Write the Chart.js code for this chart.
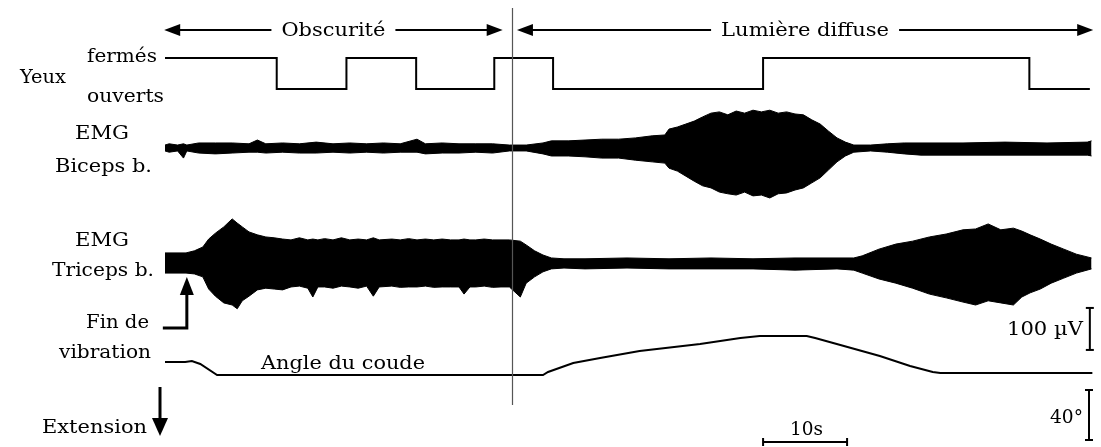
<!DOCTYPE html>
<html>
<head>
<meta charset="utf-8">
<script src="https://cdn.jsdelivr.net/npm/chart.js@4/dist/chart.umd.min.js"></script>
<style>
  html, body { margin: 0; padding: 0; background: #fff; }
  canvas { display: block; }
</style>
</head>
<body>
<canvas id="chart" width="1101" height="447"></canvas>
<script>
// all times in seconds from the start of the recording
const eyeTimes = [0, 13.3, 21.6, 29.9, 39.2, 46.2, 71.2, 102.9, 110.1];
const eyeStates = [1, 0, 1, 0, 1, 0, 1, 0, 0]; // 1 = fermés, 0 = ouverts

// EMG envelopes, µV (upper edge / lower edge of the raw trace)
const bicepsTimes = [0, 0.5, 1.5, 2.2, 2.6, 4, 6, 8, 10, 11, 12, 14, 16, 18, 20, 22, 24, 26, 28, 30, 31, 33, 35, 37, 39, 41, 43, 45, 46, 48, 50, 52, 54, 56, 58, 59.5, 60, 61, 62, 63, 64, 65, 66, 67, 68, 69, 70, 71, 72, 73, 74, 75, 76, 77, 78, 79, 80, 81, 82, 84, 86, 88, 90, 95, 100, 105, 109.8, 110.3];
const bicepsMax = [7, 10, 7, 10, 7, 12, 12, 12, 10, 19, 10, 12, 10, 14, 10, 12, 10, 12, 10, 21, 10, 12, 10, 10, 10, 7, 7, 12, 17, 17, 19, 21, 21, 24, 29, 31, 45, 50, 57, 64, 74, 83, 86, 79, 88, 83, 90, 86, 90, 83, 86, 81, 79, 67, 57, 40, 24, 14, 7, 7, 10, 12, 12, 12, 14, 12, 14, 17];
const bicepsMin = [-7, -10, -7, -24, -7, -12, -14, -12, -10, -10, -12, -10, -12, -12, -10, -12, -10, -12, -10, -10, -14, -12, -12, -10, -12, -7, -7, -14, -19, -19, -21, -24, -24, -29, -33, -36, -48, -55, -67, -79, -90, -95, -105, -109, -112, -105, -114, -112, -119, -109, -107, -100, -95, -83, -71, -52, -33, -19, -10, -7, -10, -14, -17, -17, -17, -17, -17, -19];

const tricepsTimes = [0, 2.5, 3.5, 4.5, 5.2, 6, 7, 8, 8.6, 9.2, 10, 11, 12, 13, 14, 15, 16, 17, 17.6, 18.2, 19, 20, 21, 22, 23, 24, 24.8, 25.5, 27, 28, 29, 30, 31, 32, 33, 34, 35, 35.6, 36.3, 37, 38, 39, 40, 41, 42.3, 43, 44, 45, 46, 47.5, 50, 55, 60, 65, 70, 75, 80, 82, 83, 85, 87, 89, 91, 93, 95, 96.5, 98, 99.5, 101, 102, 103, 104.2, 105.5, 107, 108.5, 110.3];
const tricepsMax = [24, 24, 29, 38, 57, 71, 86, 105, 95, 86, 74, 67, 62, 60, 57, 55, 60, 55, 57, 55, 58, 55, 60, 55, 57, 55, 60, 55, 57, 55, 58, 55, 57, 55, 57, 55, 55, 57, 55, 55, 57, 55, 55, 55, 52, 43, 29, 19, 12, 10, 10, 12, 10, 12, 10, 12, 12, 12, 17, 33, 45, 52, 62, 69, 79, 81, 93, 79, 83, 76, 67, 57, 45, 33, 21, 12];
const tricepsMin = [-24, -24, -26, -33, -62, -79, -95, -100, -109, -90, -79, -64, -60, -62, -64, -57, -55, -60, -81, -57, -57, -60, -55, -57, -60, -55, -79, -57, -55, -58, -57, -57, -55, -58, -57, -57, -57, -74, -57, -57, -55, -58, -57, -57, -81, -48, -33, -21, -14, -12, -14, -12, -14, -14, -14, -17, -14, -17, -24, -38, -48, -60, -74, -83, -93, -100, -90, -95, -100, -81, -71, -62, -48, -36, -24, -14];

// elbow angle, degrees relative to the final extended position
const angleTimes = [0, 2.4, 3.2, 4.2, 6.2, 45.0, 45.6, 48.6, 51.8, 56.5, 63.7, 68.5, 70.8, 76.4, 77.4, 80.4, 85.1, 88.7, 91.4, 92.3, 110.4];
const angleDeg = [9.6, 9.6, 10.4, 8.0, -0.8, -0.8, 1.6, 8.8, 12.8, 18.4, 24.0, 28.8, 30.4, 30.4, 28.8, 23.2, 14.4, 6.4, 1.6, 0.8, 0.8];

// events
const vibrationEnd = 2.6;
const lightOn = 41.3;
const periodLabels = ["Obscurité", "Lumière diffuse"];
const periodStart = [-0.1, 41.9];
const periodEnd = [40.2, 110.5];

// calibration bars
const emgBar = 100;   // µV
const angleBar = 40;  // degrees
const timeBar = 10;   // s

const W = 1101, H = 447;
const PX_PER_S = 8.4;
const T0_PX = 165;

// every trace gets its own hidden y axis: zero line position and gain in px/unit
function band(zeroPx, pxPerUnit) {
    return { display: false, bounds: "data", min: (zeroPx - H) / pxPerUnit, max: zeroPx / pxPerUnit };
}

function points(xs, ys) {
    return xs.map((x, i) => ({ x: x, y: ys[i] }));
}

const lineBase = { pointRadius: 0, borderColor: "#000", backgroundColor: "#000", tension: 0, fill: false };

const datasets = [
    Object.assign({}, lineBase, { label: "Yeux", data: points(eyeTimes, eyeStates), yAxisID: "yEye", stepped: "before", borderWidth: 2 }),
    Object.assign({}, lineBase, { label: "Biceps max", data: points(bicepsTimes, bicepsMax), yAxisID: "yBic", borderWidth: 1, fill: "+1" }),
    Object.assign({}, lineBase, { label: "Biceps min", data: points(bicepsTimes, bicepsMin), yAxisID: "yBic", borderWidth: 1 }),
    Object.assign({}, lineBase, { label: "Triceps max", data: points(tricepsTimes, tricepsMax), yAxisID: "yTri", borderWidth: 1, fill: "+1" }),
    Object.assign({}, lineBase, { label: "Triceps min", data: points(tricepsTimes, tricepsMin), yAxisID: "yTri", borderWidth: 1 }),
    Object.assign({}, lineBase, { label: "Angle", data: points(angleTimes, angleDeg), yAxisID: "yAng", borderWidth: 2 }),
    // calibration bars, drawn on the axes they measure
    Object.assign({}, lineBase, { label: "100 µV", data: [{ x: 110.1, y: -107 }, { x: 110.1, y: -107 - emgBar }], yAxisID: "yTri", borderWidth: 2, pointStyle: "line", pointRadius: 4, pointBorderWidth: 2 }),
    Object.assign({}, lineBase, { label: "40°", data: [{ x: 110.0, y: -12.8 }, { x: 110.0, y: -12.8 - angleBar }], yAxisID: "yAng", borderWidth: 2, pointStyle: "line", pointRadius: 4, pointBorderWidth: 2 }),
    Object.assign({}, lineBase, { label: "10s", data: [{ x: 71.2, y: -54.4 }, { x: 71.2 + timeBar, y: -54.4 }], yAxisID: "yAng", borderWidth: 2, pointStyle: "line", rotation: 90, pointRadius: 4, pointBorderWidth: 2 })
];

const FONT = '19px "DejaVu Serif"';
// text, left x, middle y, width it spans
const labels = [
    ["Yeux", 20, 78, 46],
    ["fermés", 87, 57, 70],
    ["ouverts", 87, 97, 77],
    ["EMG", 75, 134, 54],
    ["Biceps b.", 55, 167, 97],
    ["EMG", 75, 241, 54],
    ["Triceps b.", 52, 271, 102],
    ["Fin de", 86, 323, 63],
    ["vibration", 59, 353, 92],
    ["Angle du coude", 261, 364, 164],
    ["Extension", 42, 428, 105],
    ["100 µV", 1007, 330, 76],
    ["40°", 1050, 418, 33],
    ["10s", 790, 430, 33]
];

function fitText(ctx, text, x, y, width) {
    const w = ctx.measureText(text).width;
    ctx.save();
    ctx.translate(x, y);
    ctx.scale(width / w, 1);
    ctx.fillText(text, 0, 0);
    ctx.restore();
}

function arrowHead(ctx, x, y, dx, dy, len, half) {
    // tip at (x, y), pointing along (dx, dy)
    ctx.beginPath();
    ctx.moveTo(x, y);
    ctx.lineTo(x - dx * len - dy * half, y - dy * len + dx * half);
    ctx.lineTo(x - dx * len + dy * half, y - dy * len - dx * half);
    ctx.closePath();
    ctx.fill();
}

const annotations = {
    id: "annotations",
    afterDatasetsDraw(chart) {
        const ctx = chart.ctx;
        const xs = chart.scales.x;
        ctx.save();
        ctx.fillStyle = "#000";
        ctx.strokeStyle = "#000";
        ctx.font = FONT;
        ctx.textBaseline = "middle";

        // light switched on
        const lx = Math.round(xs.getPixelForValue(lightOn)) + 0.5;
        ctx.strokeStyle = "#555";
        ctx.lineWidth = 1.2;
        ctx.beginPath();
        ctx.moveTo(lx, 8);
        ctx.lineTo(lx, 405);
        ctx.stroke();

        // period arrows
        ctx.strokeStyle = "#000";
        ctx.lineWidth = 2;
        const ay = 30;
        periodLabels.forEach((label, i) => {
            const a = xs.getPixelForValue(periodStart[i]);
            const b = xs.getPixelForValue(periodEnd[i]);
            const tw = i === 0 ? 104 : 168;
            const mid = (a + b) / 2;
            ctx.beginPath();
            ctx.moveTo(a + 10, ay);
            ctx.lineTo(mid - tw / 2 - 10, ay);
            ctx.moveTo(mid + tw / 2 + 10, ay);
            ctx.lineTo(b - 10, ay);
            ctx.stroke();
            arrowHead(ctx, a, ay, -1, 0, 16, 6);
            arrowHead(ctx, b, ay, 1, 0, 16, 6);
            fitText(ctx, label, mid - tw / 2, ay + 1, tw);
        });

        // end of vibration marker
        const vx = xs.getPixelForValue(vibrationEnd);
        ctx.lineWidth = 3;
        ctx.beginPath();
        ctx.moveTo(vx - 24, 328);
        ctx.lineTo(vx, 328);
        ctx.lineTo(vx, 292);
        ctx.stroke();
        arrowHead(ctx, vx, 277, 0, -1, 18, 7);

        // extension direction
        ctx.beginPath();
        ctx.moveTo(160, 387);
        ctx.lineTo(160, 420);
        ctx.stroke();
        arrowHead(ctx, 160, 436, 0, 1, 18, 8);

        labels.forEach(([text, x, y, w]) => fitText(ctx, text, x, y, w));
        ctx.restore();
    }
};

new Chart(document.getElementById("chart"), {
    type: "line",
    data: { datasets: datasets },
    options: {
        responsive: false,
        animation: false,
        events: [],
        layout: { padding: 0, autoPadding: false },
        plugins: { legend: { display: false }, tooltip: { enabled: false } },
        scales: {
            x: { type: "linear", display: false, min: -T0_PX / PX_PER_S, max: (W - T0_PX) / PX_PER_S },
            yEye: band(89, 31),
            yBic: band(148, 0.42),
            yTri: band(263, 0.42),
            yAng: band(374, 1.25)
        }
    },
    plugins: [annotations]
});
</script>
</body>
</html>
